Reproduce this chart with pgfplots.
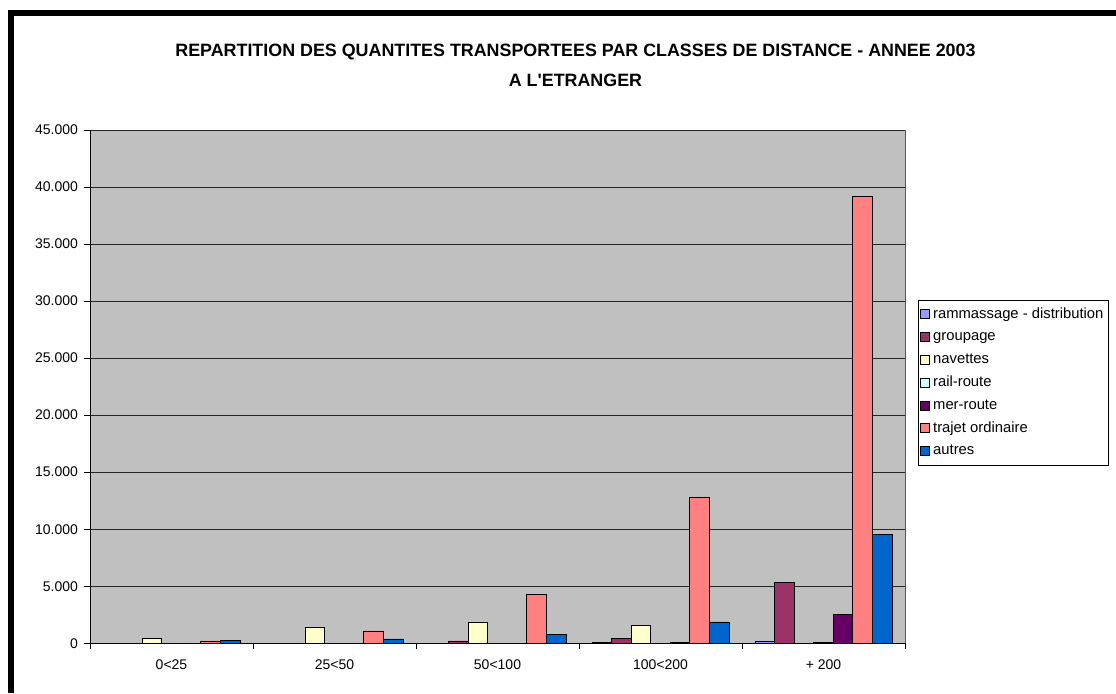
\documentclass[border=0pt]{standalone}
\usepackage{fontspec}
\setmainfont{Liberation Sans}
\usepackage{pgfplots}
\pgfplotsset{compat=1.18}
\definecolor{cRam}{HTML}{9999FF}
\definecolor{cGrp}{HTML}{993366}
\definecolor{cNav}{HTML}{FFFFCC}
\definecolor{cRail}{HTML}{CCFFFF}
\definecolor{cMer}{HTML}{660066}
\definecolor{cTraj}{HTML}{FF8080}
\definecolor{cAut}{HTML}{0066CC}
\definecolor{cBg}{HTML}{C0C0C0}
\begin{document}
\begin{tikzpicture}
\useasboundingbox (0,0) rectangle (837pt,519.75pt);
\fill[black] (6pt,0pt) rectangle (10.5pt,512.25pt);
\fill[black] (6pt,507.75pt) rectangle (837pt,512.25pt);
\node[font=\fontsize{13.4}{16}\selectfont\bfseries] at (431.6pt,480.75pt) {REPARTITION DES QUANTITES TRANSPORTEES PAR CLASSES DE DISTANCE - ANNEE 2003};
\node[font=\fontsize{13.4}{16}\selectfont\bfseries] at (431.6pt,459.75pt) {A L\textquotesingle ETRANGER};
\begin{axis}[
  at={(67.5pt,37.3pt)}, anchor=south west,
  scale only axis, width=611.25pt, height=385pt,
  ybar=0pt, bar width=0.12,
  xmin=-0.5, xmax=4.5, ymin=0, ymax=45000,
  axis lines=left, axis line style={black, line width=0.75pt, -},
  axis background/.style={fill=cBg, draw=gray!70!black, line width=0.6pt},
  xtick={0,1,2,3,4},
  xticklabels={0<25, 25<50, 50<100, 100<200, + 200},
  minor xtick={-0.5,0.5,1.5,2.5,3.5,4.5},
  major x tick style={draw=none},
  minor x tick style={black, line width=0.6pt},
  ytick={0,5000,...,45000},
  tick align=outside, major tick length=4.5pt, minor tick length=4.5pt,
  y tick style={black, line width=0.6pt},
  ymajorgrids, major grid style={black!85, line width=0.6pt},
  scaled y ticks=false,
  /pgf/number format/.cd, 1000 sep={.}, assume math mode=true,
  /pgfplots/.cd,
  tick label style={font=\fontsize{10.5}{12}\selectfont},
  yticklabel style={xshift=-1pt},
  xticklabel style={yshift=-4.5pt},
  legend style={at={(1.016,0.6688)}, anchor=north west, draw=black, line width=0.6pt,
    font=\fontsize{11.1}{13}\selectfont, row sep=4.2pt, inner xsep=1pt, inner ysep=4pt,
    nodes={inner xsep=2.8pt, inner ysep=1pt, text height=8.3pt, text depth=2.6pt}},
  legend cell align=left,
  legend image code/.code={\draw[#1, line width=0.5pt] (0pt,-3.4pt) rectangle (6.75pt,3.4pt);},
  every axis plot/.append style={draw=black, line width=0.6pt},
]
\addplot[fill=cRam] coordinates {(3,80) (4,180)};
\addplot[fill=cGrp] coordinates {(2,200) (3,440) (4,5340)};
\addplot[fill=cNav] coordinates {(0,450) (1,1370) (2,1870) (3,1540)};
\addplot[fill=cRail] coordinates {(4,50)};
\addplot[fill=cMer] coordinates {(3,50) (4,2540)};
\addplot[fill=cTraj] coordinates {(0,200) (1,1080) (2,4260) (3,12750) (4,39150)};
\addplot[fill=cAut] coordinates {(0,270) (1,380) (2,790) (3,1870) (4,9570)};
\legend{rammassage - distribution, groupage, navettes, rail-route, mer-route, trajet ordinaire, autres}
\end{axis}
\end{tikzpicture}
\end{document}
